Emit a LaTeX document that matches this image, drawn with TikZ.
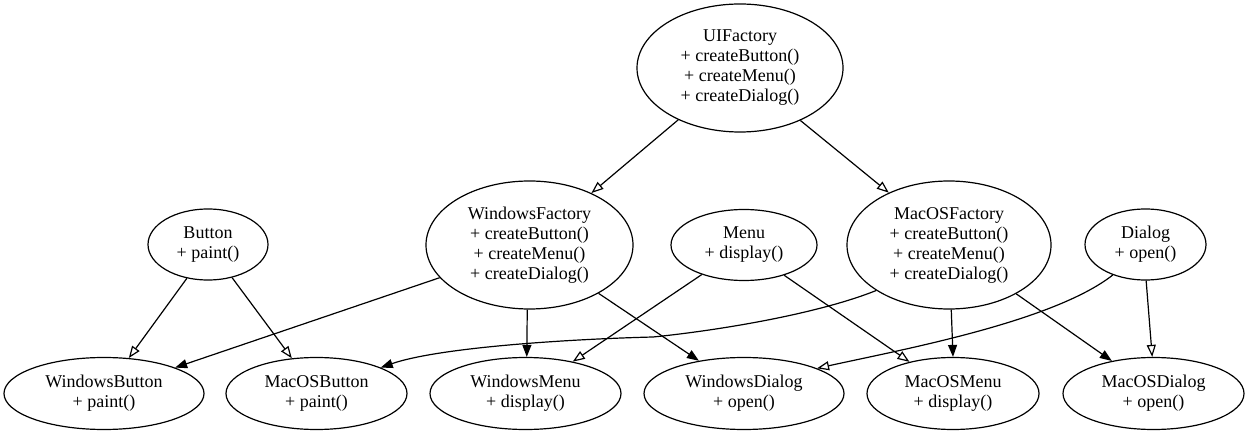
\documentclass[tikz,border=0pt]{standalone}
\usepackage{fontspec}
\setmainfont{Liberation Serif}
\usetikzlibrary{shapes.geometric,arrows.meta}
\begin{document}
\begin{tikzpicture}[x=1pt,y=-1pt,
  cls/.style={ellipse, draw, line width=1.2pt, inner sep=0pt, align=center, font=\fontsize{18}{20}\selectfont},
  big/.style={cls, minimum width=206pt, minimum height=128pt},
  small/.style={cls, minimum height=71pt},
  low/.style={cls, minimum height=72pt},
  inherit/.style={draw, line width=1.2pt, -{Triangle[open, length=12pt, width=9pt]}},
  creates/.style={draw, line width=1.2pt, -{Triangle[length=12pt, width=9pt]}},
]
\useasboundingbox (0,0) rectangle (1249,435);

\node[big] (ui) at (740,68) {UIFactory\\+ createButton()\\+ createMenu()\\+ createDialog()};
\node[big, minimum width=207pt] (wf) at (529.5,245) {WindowsFactory\\+ createButton()\\+ createMenu()\\+ createDialog()};
\node[big, minimum width=204pt] (mf) at (949,245) {MacOSFactory\\+ createButton()\\+ createMenu()\\+ createDialog()};

\node[small, minimum width=120pt] (btn) at (208,244.5) {Button\\+ paint()};
\node[small, minimum width=146pt] (menu) at (744,245) {Menu\\+ display()};
\node[small, minimum width=121pt] (dlg) at (1145.5,244.5) {Dialog\\+ open()};

\node[low, minimum width=200pt] (wb) at (104,393.5) {WindowsButton\\+ paint()};
\node[low, minimum width=181pt] (mb) at (316.5,393.5) {MacOSButton\\+ paint()};
\node[low, minimum width=191pt] (wm) at (525.5,393.5) {WindowsMenu\\+ display()};
\node[low, minimum width=200pt] (wd) at (744,393.5) {WindowsDialog\\+ open()};
\node[low, minimum width=172pt] (mm) at (953,393.5) {MacOSMenu\\+ display()};
\node[low, minimum width=181pt] (md) at (1153.5,393.5) {MacOSDialog\\+ open()};

\coordinate (mbmid) at (653,337);

% inheritance (open arrows)
\draw[inherit] (ui.220.5) -- (wf.40.2);
\draw[inherit] (ui.319) -- (mf.139);
\draw[inherit] (btn.238.7) -- (wb.55.2);
\draw[inherit] (btn.306) -- (mb.125.4);
\draw[inherit] (menu.215.5) -- (wm.34.7);
\draw[inherit] (menu.323.8) -- (mm.144);
\draw[inherit] (dlg.223.2) .. controls (1053,322) and (900,350) .. (wd.19);
\draw[inherit] (dlg.271) -- (md.92);

% creation (filled arrows)
\draw[creates] (wf.200) -- (wb.20);
\draw[creates] (wf.268.5) -- (wm.88);
\draw[creates] (wf.325) -- (wd.144.2);
\draw[creates] (mf.212) .. controls (815,315) and (713,331) .. (mbmid)
  .. controls (573,339) and (440,347) .. (mb.22);
\draw[creates] (mf.272) -- (mm.90);
\draw[creates] (mf.324.8) -- (md.142.8);
\end{tikzpicture}
\end{document}
